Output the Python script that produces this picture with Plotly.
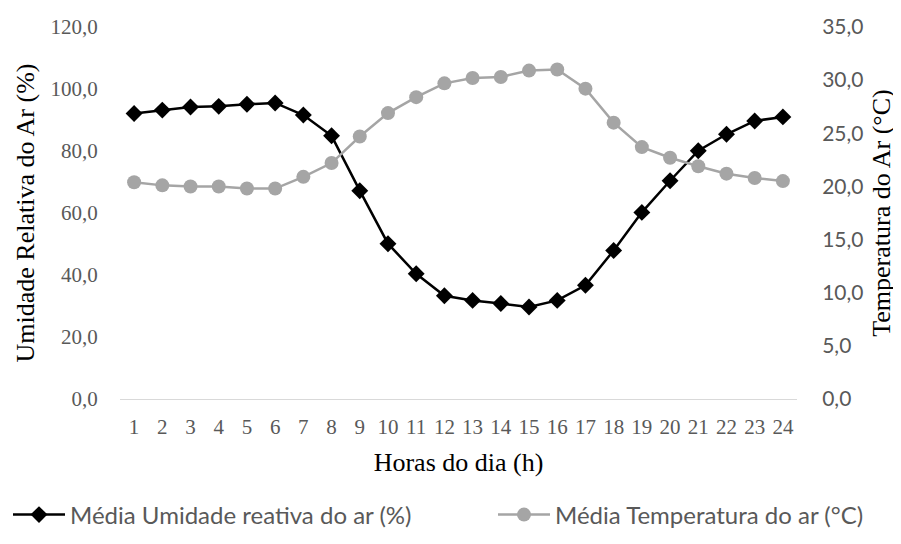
import plotly.graph_objects as go

horas = list(range(1, 25))
umidade = [92.1, 93.2, 94.2, 94.4, 95.1, 95.5, 91.6, 84.9, 67.2, 50.1, 40.4, 33.3,
           31.8, 30.8, 29.7, 31.8, 36.7, 47.9, 60.2, 70.4, 80.1, 85.4, 89.7, 91.0]
temperatura = [20.4, 20.1, 20.0, 20.0, 19.8, 19.8, 20.9, 22.2, 24.7, 26.9, 28.4, 29.7,
               30.2, 30.3, 30.9, 31.0, 29.2, 26.0, 23.7, 22.7, 21.9, 21.2, 20.8, 20.5]

serif = "Liberation Serif, Times New Roman, serif"
sans = "Lato, Carlito, Calibri, sans-serif"
gray_txt = "#595959"

fig = go.Figure()
fig.add_trace(go.Scatter(
    x=horas, y=umidade, name="Média Umidade reativa do ar (%)",
    mode="lines+markers", line=dict(color="black", width=2.5),
    marker=dict(symbol="diamond", size=13, color="black"), yaxis="y",
    legend="legend"))
fig.add_trace(go.Scatter(
    x=horas, y=temperatura, name="Média Temperatura do ar (°C)",
    mode="lines+markers", line=dict(color="#A5A5A5", width=2.5),
    marker=dict(symbol="circle", size=14, color="#A5A5A5"), yaxis="y2",
    legend="legend2"))

leg_common = dict(orientation="h", xref="container", yref="container",
                  y=0.068, yanchor="middle", xanchor="left",
                  font=dict(family=sans, size=24, color=gray_txt),
                  itemwidth=52, bgcolor="rgba(0,0,0,0)")

fig.update_layout(
    width=901, height=544,
    margin=dict(l=112, r=112, t=19, b=153, autoexpand=False),
    paper_bgcolor="white", plot_bgcolor="white",
    separators=", ",
    showlegend=True,
    legend=dict(x=0.0, **leg_common),
    legend2=dict(x=485 / 901, **leg_common),
    xaxis=dict(range=[0.5, 24.5], tickmode="array", tickvals=horas,
               ticktext=[str(h) for h in horas], automargin=False,
               showgrid=False, zeroline=False, showline=True, linecolor="#d9d9d9", linewidth=1,
               ticks="outside", ticklen=9, tickcolor="rgba(0,0,0,0)",
               tickfont=dict(family=serif, size=21, color=gray_txt),
               title=dict(text="Horas do dia (h)", standoff=14,
                          font=dict(family=serif, size=26, color="black"))),
    yaxis=dict(range=[0, 120], dtick=20, tickformat=".1f", automargin=False,
               showgrid=False, zeroline=False, showline=False,
               ticks="outside", ticklen=17, tickcolor="rgba(0,0,0,0)",
               tickfont=dict(family=serif, size=21, color=gray_txt),
               title=dict(text="Umidade Relativa do Ar (%)", standoff=8,
                          font=dict(family=serif, size=26, color="black"))),
    yaxis2=dict(range=[0, 35], dtick=5, tickformat=".1f", overlaying="y", side="right",
                automargin=False,
                showgrid=False, zeroline=False, showline=False,
                ticks="outside", ticklen=20, tickcolor="rgba(0,0,0,0)",
                tickfont=dict(family=sans, size=21, color=gray_txt),
                title=dict(text="Temperatura do Ar (°C)", standoff=9,
                           font=dict(family=serif, size=26, color="black"))),
)

fig.write_html("out.html")
